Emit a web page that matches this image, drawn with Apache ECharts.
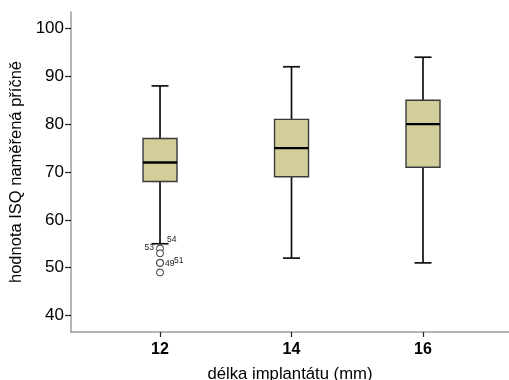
<!DOCTYPE html>
<html>
<head>
<meta charset="utf-8">
<script src="https://cdn.jsdelivr.net/npm/echarts@6/dist/echarts.min.js"></script>
<style>
  html, body { margin: 0; padding: 0; background: #ffffff; }
  #chart { width: 509px; height: 380px; }
</style>
</head>
<body>
<div id="chart"></div>
<script>
// Implant length groups (mm) and the five-number summaries of ISQ
const lengths = [12, 14, 16];
const whiskerLow = [55, 52, 51];
const quartile1 = [68, 69, 71];
const medians = [72, 75, 80];
const quartile3 = [77, 81, 85];
const whiskerHigh = [88, 92, 94];

// Outlying measurements in the 12 mm group, with their case numbers
const outlierLength = [12, 12, 12, 12, 12];
const outlierValues = [54, 53, 51, 51, 49];
const outlierCases = ['54', '53', '49', '51', ''];

const yTicks = [40, 50, 60, 70, 80, 90, 100];

const FONT = '"Liberation Sans", Arial, Helvetica, sans-serif';
const BOX_WIDTH = 0.517;   // in mm units of the x scale
const BOX_FILL = '#d2ce9a';

const boxData = lengths.map((len, i) => [
  len, whiskerLow[i], quartile1[i], medians[i], quartile3[i], whiskerHigh[i]
]);

// label placement for each case number next to its circle
const caseLabelStyle = [
  { position: 'right', distance: 3, offset: [0, -9] },
  { position: 'left', distance: 2, offset: [0, -6] },
  { position: 'right', distance: 1, offset: [0, 1] },
  { position: 'right', distance: 1, offset: [9, -2.5] },
  { show: false }
];

const outlierData = outlierValues.map((v, i) => ({
  value: [outlierLength[i], v],
  name: outlierCases[i],
  label: Object.assign({ show: outlierCases[i] !== '' }, caseLabelStyle[i])
}));

function renderBox(params, api) {
  const x = api.value(0);
  const lo = api.coord([x, api.value(1)]);
  const b1 = api.coord([x, api.value(2)]);
  const md = api.coord([x, api.value(3)]);
  const b3 = api.coord([x, api.value(4)]);
  const hi = api.coord([x, api.value(5)]);
  const boxW = api.size([BOX_WIDTH, 0])[0];
  const cx = lo[0];
  const hb = boxW / 2;
  const hc = boxW / 4;
  const whisker = { stroke: '#111111', lineWidth: 1.7 };
  return {
    type: 'group',
    children: [
      { type: 'line', shape: { x1: cx, y1: hi[1], x2: cx, y2: b3[1] }, style: whisker },
      { type: 'line', shape: { x1: cx, y1: b1[1], x2: cx, y2: lo[1] }, style: whisker },
      { type: 'line', shape: { x1: cx - hc, y1: hi[1], x2: cx + hc, y2: hi[1] }, style: whisker },
      { type: 'line', shape: { x1: cx - hc, y1: lo[1], x2: cx + hc, y2: lo[1] }, style: whisker },
      {
        type: 'rect',
        shape: { x: cx - hb, y: b3[1], width: boxW, height: b1[1] - b3[1] },
        style: { fill: BOX_FILL, stroke: '#3a3a3a', lineWidth: 1.4 }
      },
      {
        type: 'line',
        shape: { x1: cx - hb, y1: md[1], x2: cx + hb, y2: md[1] },
        style: { stroke: '#000000', lineWidth: 2.4 }
      }
    ]
  };
}

const chart = echarts.init(document.getElementById('chart'), null, { renderer: 'canvas' });

chart.setOption({
  animation: false,
  backgroundColor: '#ffffff',
  textStyle: { fontFamily: FONT },
  grid: { left: 71, right: 0, top: 12, bottom: 48, outerBoundsMode: 'none', containLabel: false },
  xAxis: {
    type: 'value',
    min: 10.646,
    max: 17.308,
    name: 'délka implantátu (mm)',
    nameLocation: 'middle',
    nameGap: 34,
    nameTextStyle: { fontFamily: FONT, fontSize: 16.7, color: '#000000' },
    axisLine: { show: true, lineStyle: { color: '#9c9c9c', width: 1.5 } },
    axisTick: { show: true, customValues: lengths, length: 5, lineStyle: { color: '#222222', width: 1.2 } },
    axisLabel: {
      customValues: lengths,
      margin: 10,
      fontFamily: FONT,
      fontSize: 16,
      fontWeight: 'bold',
      color: '#000000'
    },
    splitLine: { show: false }
  },
  yAxis: {
    type: 'value',
    min: 36.55,
    max: 103.45,
    name: 'hodnota ISQ naměřená příčně',
    nameLocation: 'middle',
    nameGap: 42,
    nameRotate: 90,
    nameTextStyle: { fontFamily: FONT, fontSize: 16.5, color: '#000000' },
    axisLine: { show: true, lineStyle: { color: '#9c9c9c', width: 1.5 } },
    axisTick: { show: true, customValues: yTicks, length: 6, lineStyle: { color: '#222222', width: 1.2 } },
    axisLabel: {
      customValues: yTicks,
      margin: 7,
      fontFamily: FONT,
      fontSize: 17,
      color: '#000000'
    },
    splitLine: { show: false }
  },
  series: [
    {
      type: 'custom',
      renderItem: renderBox,
      data: boxData,
      encode: { x: 0, y: [1, 2, 3, 4, 5] },
      z: 2
    },
    {
      type: 'scatter',
      data: outlierData,
      symbol: 'circle',
      symbolSize: 7,
      itemStyle: { color: '#ffffff', borderColor: '#333333', borderWidth: 1, opacity: 1 },
      label: {
        formatter: '{b}',
        fontFamily: FONT,
        fontSize: 8.5,
        color: '#222222'
      },
      z: 3
    }
  ]
});
</script>
</body>
</html>
